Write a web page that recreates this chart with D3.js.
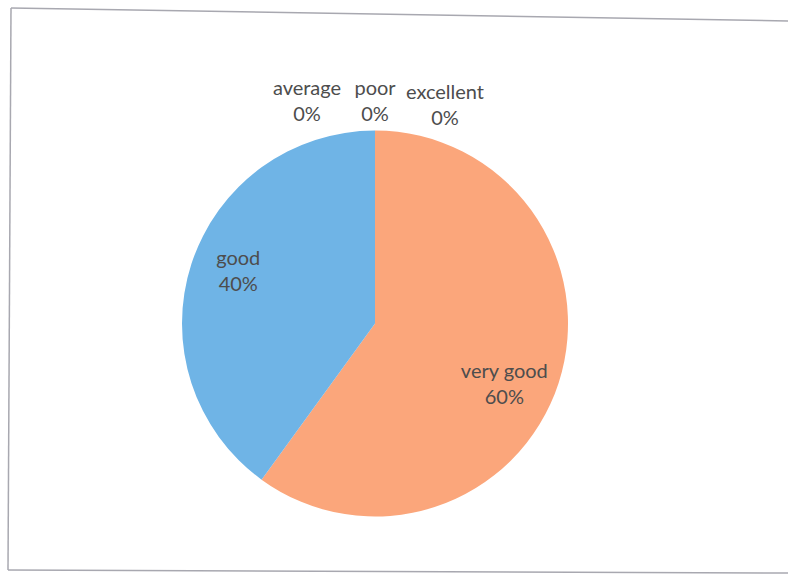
<!DOCTYPE html>
<html><head><meta charset="utf-8">
<script src="https://cdn.jsdelivr.net/npm/d3@7"></script>
<style>html,body{margin:0;padding:0;background:#fff;}svg{display:block;}</style>
</head><body>
<svg id="chart" width="788" height="574"></svg>
<script>
const categories = ["excellent", "very good", "good", "average", "poor"];
const values = [0, 60, 40, 0, 0];
const colors = ["#5b9bd5", "#fba67b", "#6fb4e6", "#a5a5a5", "#ffc000"];

const svg = d3.select("#chart");
const W = 788, H = 574;
const cx = 375, cy = 323.5, R = 193;

// frame (scanned, slightly skewed)
const frame = svg.append("g").attr("stroke", "#a8a8b0").attr("stroke-width", 1.5).attr("fill", "none");
frame.append("path").attr("d", "M11,8 L788,21");
frame.append("path").attr("d", "M11,8 L8,570");
frame.append("path").attr("d", "M8,570 L788,573");

const data = categories.map((c, i) => ({ name: c, value: values[i], color: colors[i] }));
const pie = d3.pie().value(d => d.value).sort(null);
const arcs = pie(data);
const arc = d3.arc().innerRadius(0).outerRadius(R);

const g = svg.append("g").attr("transform", `translate(${cx},${cy})`);
g.selectAll("path.slice").data(arcs.filter(a => a.data.value > 0)).join("path")
  .attr("class", "slice")
  .attr("d", arc)
  .attr("fill", d => d.data.color);

const total = d3.sum(values);
const fmt = v => Math.round(v / total * 100) + "%";
const font = "Lato, 'Open Sans', sans-serif";
const fsize = "20px";
const tcolor = "#4d4d4d";

// inside labels for non-zero slices
const labelR = R * 0.75;
const labelShift = { "very good": 0.12, "good": 0.06 };
arcs.filter(a => a.data.value > 0).forEach(a => {
  const mid = (a.startAngle + a.endAngle) / 2 + (labelShift[a.data.name] || 0);
  const x = labelR * Math.sin(mid) - 2, y = -labelR * Math.cos(mid);
  const t = g.append("text").attr("text-anchor", "middle").attr("fill", tcolor)
    .style("font-family", font).style("font-size", fsize);
  t.append("tspan").attr("x", x).attr("y", y - 6).text(a.data.name);
  t.append("tspan").attr("x", x).attr("y", y + 20).text(fmt(a.data.value));
});

// outside labels for zero slices (stacked above the top)
const zeroOffsets = { "average": [-68, -229], "poor": [0, -229], "excellent": [70, -225] };
arcs.filter(a => a.data.value === 0).forEach(a => {
  const o = zeroOffsets[a.data.name];
  const t = g.append("text").attr("text-anchor", "middle").attr("fill", tcolor)
    .style("font-family", font).style("font-size", fsize);
  t.append("tspan").attr("x", o[0]).attr("y", o[1]).text(a.data.name);
  t.append("tspan").attr("x", o[0]).attr("y", o[1] + 26).text(fmt(a.data.value));
});
</script>
</body></html>
